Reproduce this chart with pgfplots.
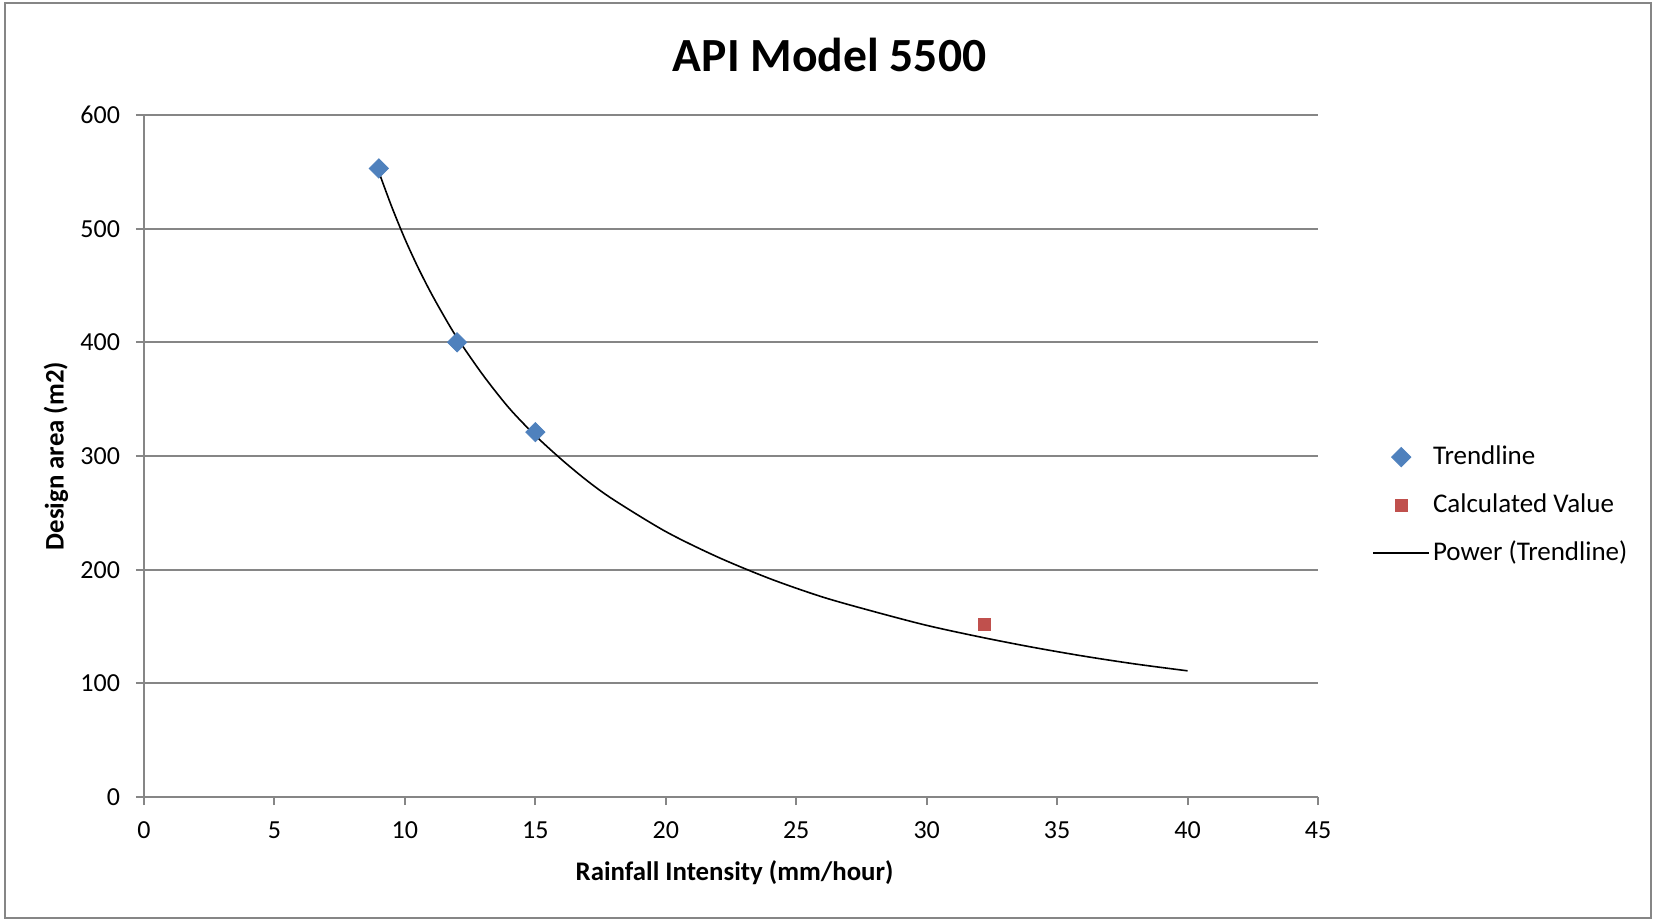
\documentclass[border=0pt]{standalone}
\usepackage{fontspec}
\setmainfont{Carlito}
\usepackage{pgfplots}
\pgfplotsset{compat=1.18}
\definecolor{gridgray}{HTML}{868686}
\definecolor{xlblue}{HTML}{4F81BD}
\definecolor{xlred}{HTML}{C0504D}
\begin{document}
\begin{tikzpicture}
\useasboundingbox (0,0) rectangle (826.5pt,460pt);
\draw[draw=gridgray, line width=1pt] (2.5pt,1pt) rectangle (825.5pt,458.5pt);
\begin{axis}[
    at={(72pt,61.5pt)}, anchor=south west,
    scale only axis,
    width=587pt, height=341pt,
    xmin=0, xmax=45,
    ymin=0, ymax=600,
    xtick={0,5,...,45},
    ytick={0,100,...,600},
    axis x line=bottom,
    axis y line=left,
    axis line style={-, draw=gridgray, line width=1pt},
    tick align=outside,
    major tick length=4pt,
    tick style={draw=gridgray, line width=1pt},
    ymajorgrids,
    grid style={draw=gridgray, line width=1pt},
    /pgf/number format/assume math mode=true,
    tick label style={font=\fontsize{13}{15}\selectfont},
    xticklabel style={yshift=-5pt},
    yticklabel style={xshift=-4.5pt},
    title={API Model 5500},
    title style={at={(axis description cs:0.584,1.071)}, anchor=center,
        font=\bfseries\fontsize{23.8}{28}\selectfont},
    xlabel={Rainfall Intensity (mm/hour)},
    xlabel style={at={(axis description cs:0.503,-0.111)}, anchor=center,
        font=\bfseries\fontsize{13.4}{16}\selectfont},
    ylabel={Design area (m2)},
    ylabel style={at={(axis description cs:-0.075,0.5)}, anchor=center,
        font=\bfseries\fontsize{13.4}{16}\selectfont},
    legend image code/.code={
        \draw[mark repeat=2,mark phase=2,#1]
            plot coordinates {(0pt,0pt)(14pt,0pt)(28pt,0pt)};},
    legend cell align=left,
    legend style={at={(1.046,0.428)}, anchor=west, draw=none, fill=none,
        inner sep=0pt, row sep=8pt,
        nodes={inner sep=1.5pt, text height=10pt, text depth=3pt},
        font=\fontsize{13.5}{16}\selectfont},
]
% power trendline
\addplot[black, line width=0.8pt, smooth, forget plot] coordinates {
(9,550)(9.5,519)(10,491)(10.5,466)(11,443.5)(11.5,423)(12,404)
(13,371)(14,342)(15,318)(16,297)(17,278)(18,261.5)(20,233.5)
(22,211)(24,192)(26,176)(28,163)(30,151)(32,141)(34,132)
(36,124)(38,117)(40,111)
};
\addplot[only marks, mark=square*, color=xlblue,
    mark size=3.4pt, mark options={rotate=45}] coordinates {
(9,553)(12,400)(15,321)
};
\addlegendentry{Trendline}
\addplot[only marks, mark=square*, color=xlred, mark size=3pt] coordinates {
(32.2,152)
};
\addlegendentry{Calculated Value}
\addlegendimage{black, line width=0.8pt}
\addlegendentry{Power (Trendline)}
\end{axis}
\end{tikzpicture}
\end{document}
